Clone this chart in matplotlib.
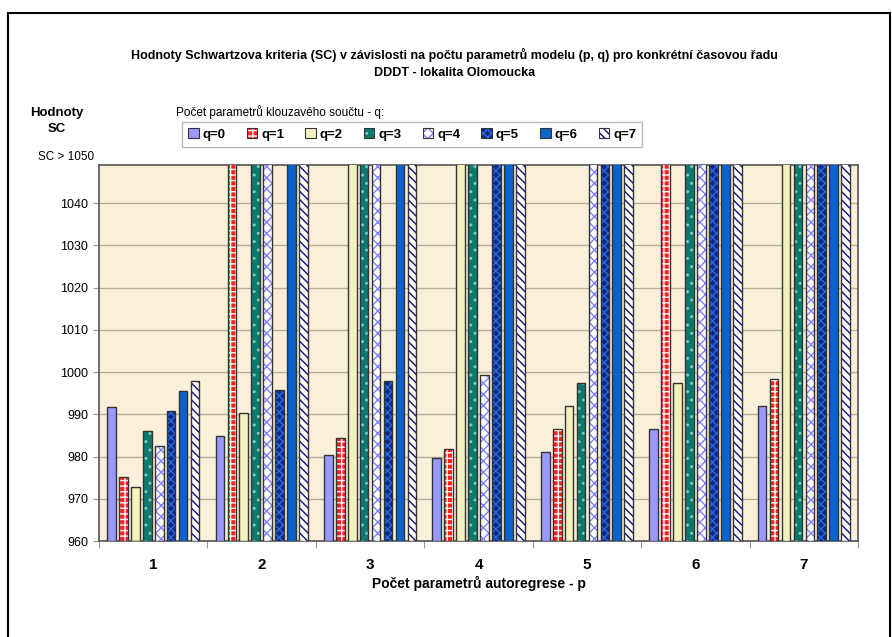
import numpy as np
import matplotlib.pyplot as plt
from matplotlib.patches import Patch, Rectangle

plt.rcParams['font.family'] = ['Liberation Sans', 'DejaVu Sans']
plt.rcParams['hatch.linewidth'] = 1.0

# Schwarz criterion values, rows p = 1..7, columns q = 0..7
# (values above 1050 run off the top of the axis)
OVER = 1100
p_values = [1, 2, 3, 4, 5, 6, 7]
q_labels = ['q=0', 'q=1', 'q=2', 'q=3', 'q=4', 'q=5', 'q=6', 'q=7']
sc = [
    [991.8, 975.1, 972.9, 986.0, 982.4, 990.9, 995.5, 997.9],
    [984.9, OVER, 990.2, OVER, OVER, 995.7, OVER, OVER],
    [980.4, 984.5, OVER, OVER, OVER, 997.9, OVER, OVER],
    [979.6, 981.8, OVER, OVER, 999.3, OVER, OVER, OVER],
    [981.1, 986.5, 992.0, 997.4, OVER, OVER, OVER, OVER],
    [986.5, OVER, 997.4, OVER, OVER, OVER, OVER, OVER],
    [992.0, 998.3, OVER, OVER, OVER, OVER, OVER, OVER],
]
y_ticks = [960, 970, 980, 990, 1000, 1010, 1020, 1030, 1040]

# fill colour, hatch pattern, hatch colour for each q series
styles = [
    ('#9999FF', '', '#9999FF'),
    ('#FF2020', '+++', '#FFFFFF'),
    ('#F4F2BC', '', '#F4F2BC'),
    ('#0B7A6E', '..', '#7FC8C0'),
    ('#FFFFFF', 'xxx', '#8080FF'),
    ('#0A2A8A', 'xxxx', '#2A6AE0'),
    ('#0864CC', '', '#0864CC'),
    ('#FFFFFF', '\\\\\\\\', '#101080'),
]

fig = plt.figure(figsize=(8.92, 6.37), dpi=100)
ax = fig.add_axes([0.111, 0.1507, 0.851, 0.590])
ax.set_facecolor('#FAF0DA')

data = np.array(sc)
x = np.array(p_values, dtype=float)
pitch = 0.11
width = 0.08
for j in range(len(q_labels)):
    fc, hatch, hc = styles[j]
    pos = x + (j - 3.5) * pitch
    ax.bar(pos, data[:, j] - 960, bottom=960, width=width, color=fc,
           hatch=hatch, edgecolor=hc, linewidth=0, zorder=3)
    ax.bar(pos, data[:, j] - 960, bottom=960, width=width, facecolor='none',
           edgecolor='#333333', linewidth=1.0, zorder=4)

ax.set_xlim(0.5, 7.5)
ax.set_ylim(960, 1049)
ax.set_yticks(y_ticks)
ax.set_yticklabels([str(v) for v in y_ticks], fontsize=9)
ax.yaxis.grid(True, color='#B5AD98', linewidth=1.0, zorder=1)
ax.tick_params(axis='y', length=4, color='#999999', pad=4)

ax.set_xticks(np.arange(0.5, 8.0, 1.0))
ax.set_xticklabels([])
ax.tick_params(axis='x', which='major', length=5, color='#999999')
ax.set_xticks(x, minor=True)
ax.set_xticklabels([str(p) for p in p_values], minor=True,
                   fontsize=11, fontweight='bold')
ax.tick_params(axis='x', which='minor', length=0, pad=12)
ax.set_xlabel('Počet parametrů autoregrese - p', fontsize=10,
              fontweight='bold', labelpad=3)

for side in ['top', 'right', 'left', 'bottom']:
    ax.spines[side].set_color('#555555')
    ax.spines[side].set_linewidth(1.2)

fig.text(0.51, 0.913, 'Hodnoty Schwartzova kriteria (SC) v závislosti na počtu '
         'parametrů modelu (p, q) pro konkrétní časovou řadu',
         ha='center', va='center', fontsize=9, fontweight='bold')
fig.text(0.51, 0.886, 'DDDT - lokalita Olomoucka', ha='center', va='center',
         fontsize=9, fontweight='bold')
fig.text(0.064, 0.822, 'Hodnoty', ha='center', va='center', fontsize=9.5,
         fontweight='bold')
fig.text(0.064, 0.797, 'SC', ha='center', va='center', fontsize=9.5,
         fontweight='bold')
fig.text(0.106, 0.754, 'SC > 1050', ha='right', va='center', fontsize=8.5)
fig.text(0.197, 0.824, 'Počet parametrů klouzavého součtu - q:',
         ha='left', va='center', fontsize=8.5)

handles = []
for fc, hatch, hc in styles:
    handles.append((Patch(facecolor=fc, hatch=hatch, edgecolor=hc, linewidth=0),
                    Patch(facecolor='none', edgecolor='#333333', linewidth=0.8)))
leg = fig.legend(handles, q_labels, ncol=8, loc='center',
                 bbox_to_anchor=(0.462, 0.789),
                 prop={'weight': 'bold', 'size': 9.5},
                 handlelength=0.8, handleheight=0.8, handletextpad=0.3,
                 columnspacing=1.6, borderpad=0.45, frameon=True, fancybox=False)
leg.get_frame().set_edgecolor('#AAAAAA')
leg.get_frame().set_linewidth(1.0)

# outer chart border
fig.patches.append(Rectangle((0.009, -0.02), 0.989, 1.0, transform=fig.transFigure,
                             fill=False, edgecolor='black', linewidth=1.5))

fig.savefig('out.png', dpi=100)
